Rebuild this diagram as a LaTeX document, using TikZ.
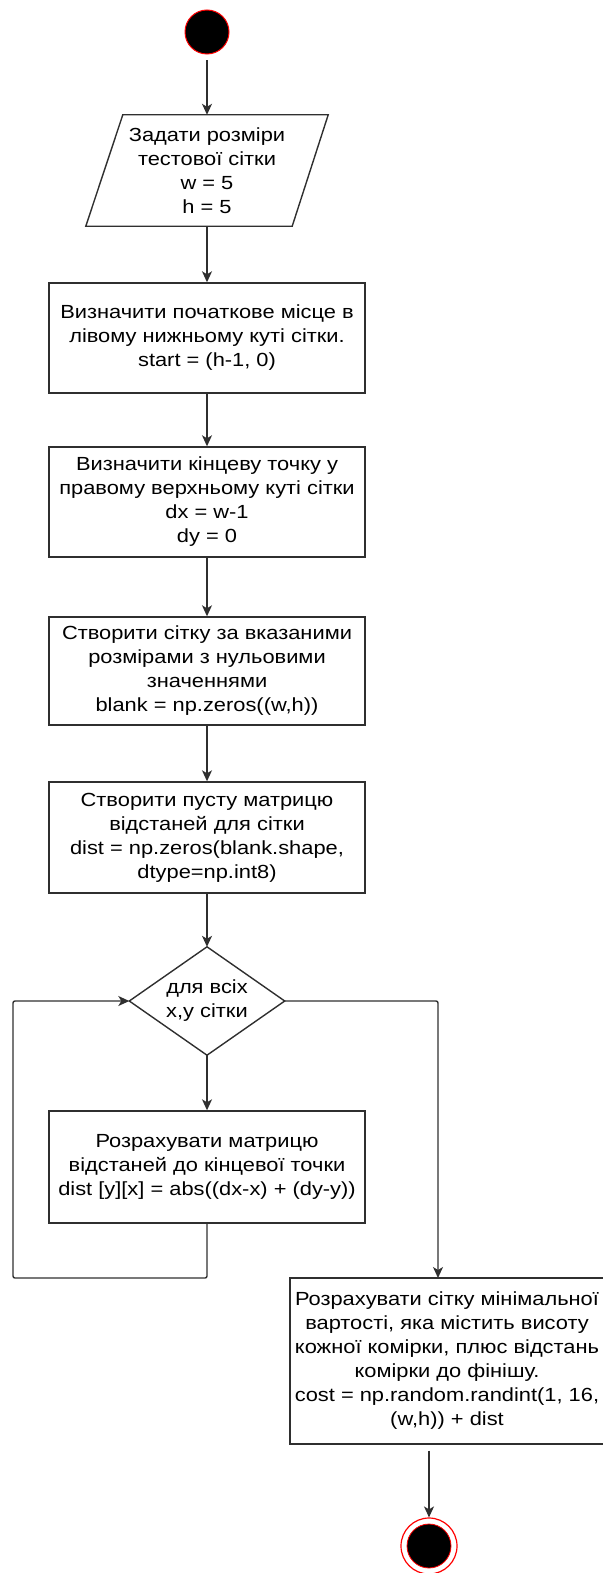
\documentclass[tikz,border=0pt]{standalone}
\usepackage{fontspec}
\setmainfont[FakeStretch=1.15]{Liberation Sans}
\usetikzlibrary{arrows.meta}
\definecolor{linec}{HTML}{2F2F2F}

\begin{document}
\begin{tikzpicture}[x=1pt,y=1pt,yscale=-1,
  every node/.style={font=\fontsize{19}{24}\selectfont, align=center, inner sep=0pt},
  procbox/.style={draw=linec, fill=white, line width=1.4pt, minimum width=316pt, minimum height=110pt},
  hidbox/.style={minimum width=#1},
  arr/.style={draw=linec, line width=1.4pt, -{Stealth[length=11pt,width=10pt,inset=3pt]}},
  outline/.style={draw=linec, line width=1.4pt, line join=miter}]
\useasboundingbox (0,0) rectangle (602,1573);

%Shape: Start circle
\node [circle, fill=black, draw=red, line width=1pt, minimum size=44pt] (start) at (207,32) {};

%Shape: Parallelogram (input)
\node [minimum width=242pt, minimum height=111pt] (inp) at (207,170.5)
  {Задати розміри\\тестової сітки\\w = 5\\h = 5};
\draw [outline] ([xshift=37pt]inp.north west) -- (inp.north east) -- ([xshift=-36pt]inp.south east) -- (inp.south west) -- cycle;

%Shape: Rectangle
\node [procbox] (b1) at (207,338)
  {Визначити початкове місце в\\лівому нижньому куті сітки.\\start = (h-1, 0)};
%Shape: Rectangle
\node [procbox] (b2) at (207,502)
  {Визначити кінцеву точку у\\правому верхньому куті сітки\\dx = w-1\\dy = 0};
%Shape: Rectangle
\node [procbox, minimum height=108pt] (b3) at (207,671)
  {Створити сітку за вказаними\\розмірами з нульовими\\значеннями\\blank = np.zeros((w,h))};
%Shape: Rectangle
\node [procbox, minimum height=111pt] (b4) at (207,837.5)
  {Створити пусту матрицю\\відстаней для сітки\\dist = np.zeros(blank.shape,\\dtype=np.int8)};

%Shape: Diamond (loop)
\node [minimum width=155pt, minimum height=108pt] (dia) at (207,1001)
  {для всіх\\x,y сітки};
\draw [outline] (dia.north) -- (dia.east) -- (dia.south) -- (dia.west) -- cycle;

%Shape: Rectangle
\node [procbox, minimum height=112pt] (b5) at (207,1167)
  {Розрахувати матрицю\\відстаней до кінцевої точки\\dist [y][x] = abs((dx-x) + (dy-y))};
%Shape: Rectangle
\node [procbox, minimum width=314pt, minimum height=166pt] (b6) at (447,1361)
  {Розрахувати сітку мінімальної\\вартості, яка містить висоту\\кожної комірки, плюс відстань\\комірки до фінішу.\\cost = np.random.randint(1, 16,\\(w,h)) + dist};

%Shape: End circle
\node [circle, draw=red, line width=1.2pt, minimum size=56pt] (stop) at (429,1546) {};
\node [circle, fill=black, draw=red, line width=0.8pt, minimum size=44pt] (stopdot) at (stop) {};

%Straight Lines
\draw [arr, shorten <=6pt] (start.south) -- (inp.north);
\draw [arr] (inp.south) -- (b1.north);
\draw [arr] (b1.south) -- (b2.north);
\draw [arr] (b2.south) -- (b3.north);
\draw [arr] (b3.south) -- (b4.north);
\draw [arr] (b4.south) -- (dia.north);
\draw [arr] (dia.south) -- (b5.north);
%Straight Lines (loop back)
\coordinate (lpb) at (13,1278);
\draw [arr, rounded corners=2pt] (b5.south) |- (lpb) |- (dia.west);
%Straight Lines (exit)
\coordinate (rj) at (438,1278);
\draw [arr, rounded corners=2pt] (dia.east) -| (rj);
\draw [arr, shorten <=6pt] (b6.south -| stop) -- (stop.north);

\end{tikzpicture}
\end{document}
